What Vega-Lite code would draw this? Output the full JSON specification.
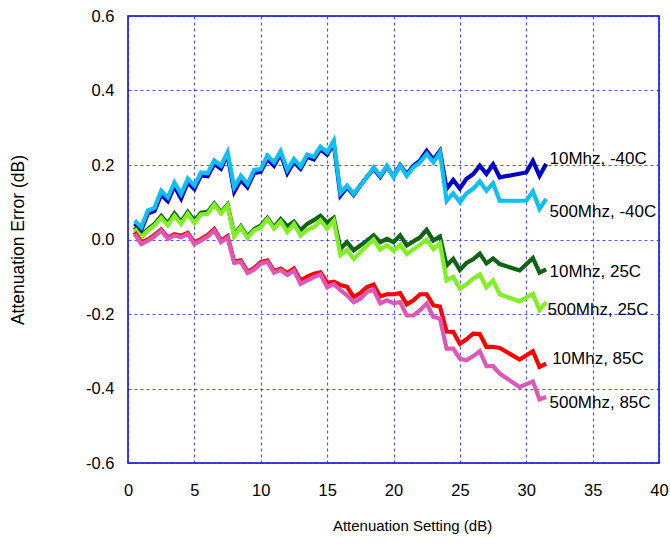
{
  "$schema": "https://vega.github.io/schema/vega-lite/v6.json",
  "autosize": {"type": "none"},
  "width": 531,
  "height": 447,
  "padding": {"left": 128, "top": 16, "right": 11, "bottom": 81},
  "background": "white",
  "config": {
    "view": {"stroke": "#0000cc", "strokeWidth": 1.5},
    "font": "Liberation Sans",
    "axis": {
      "domain": false,
      "ticks": false,
      "grid": true,
      "gridColor": "#2a2ae0",
      "gridOpacity": 0.8,
      "gridDash": [3, 3],
      "gridWidth": 1.2,
      "labelFlush": false,
      "labelFont": "Liberation Sans",
      "labelFontSize": 16.5,
      "labelColor": "#000000",
      "titleFont": "Liberation Sans",
      "titleFontSize": 15,
      "titleFontWeight": "normal",
      "titleColor": "#000000"
    }
  },
  "datasets": {
    "b10": [
      {"x":0.5,"y":0.043},{"x":1,"y":0.025},{"x":1.5,"y":0.07},{"x":2,"y":0.077},{"x":2.5,"y":0.12},{"x":3,"y":0.103},{"x":3.5,"y":0.143},{"x":4,"y":0.11},{"x":4.5,"y":0.153},{"x":5,"y":0.135},{"x":5.5,"y":0.172},{"x":6,"y":0.17},{"x":6.5,"y":0.203},{"x":7,"y":0.19},{"x":7.5,"y":0.228},
      {"x":8,"y":0.128},{"x":8.5,"y":0.16},{"x":9,"y":0.14},{"x":9.5,"y":0.178},{"x":10,"y":0.182},{"x":10.5,"y":0.216},{"x":11,"y":0.198},{"x":11.5,"y":0.23},{"x":12,"y":0.178},{"x":12.5,"y":0.208},{"x":13,"y":0.19},{"x":13.5,"y":0.222},{"x":14,"y":0.215},{"x":14.5,"y":0.242},{"x":15,"y":0.228},{"x":15.5,"y":0.258},
      {"x":16,"y":0.118},{"x":16.5,"y":0.14},{"x":17,"y":0.12},{"x":17.5,"y":0.145},{"x":18,"y":0.168},{"x":18.5,"y":0.19},{"x":19,"y":0.168},{"x":19.5,"y":0.195},{"x":20,"y":0.17},{"x":20.5,"y":0.2},{"x":21,"y":0.175},{"x":21.5,"y":0.198},{"x":22,"y":0.212},{"x":22.5,"y":0.238},{"x":23,"y":0.215},{"x":23.5,"y":0.238},
      {"x":24,"y":0.136},{"x":24.5,"y":0.16},{"x":25,"y":0.137},{"x":25.5,"y":0.163},{"x":26,"y":0.175},{"x":26.5,"y":0.198},{"x":27,"y":0.176},{"x":27.5,"y":0.202},{"x":28,"y":0.167},
      {"x":30,"y":0.18},{"x":30.5,"y":0.211},{"x":31,"y":0.171},{"x":31.5,"y":0.203}
    ],
    "b500": [
      {"x":0.5,"y":0.051},{"x":1,"y":0.033},{"x":1.5,"y":0.078},{"x":2,"y":0.085},{"x":2.5,"y":0.131},{"x":3,"y":0.113},{"x":3.5,"y":0.153},{"x":4,"y":0.122},{"x":4.5,"y":0.163},{"x":5,"y":0.145},{"x":5.5,"y":0.18},{"x":6,"y":0.178},{"x":6.5,"y":0.212},{"x":7,"y":0.198},{"x":7.5,"y":0.234},
      {"x":8,"y":0.14},{"x":8.5,"y":0.171},{"x":9,"y":0.149},{"x":9.5,"y":0.187},{"x":10,"y":0.189},{"x":10.5,"y":0.225},{"x":11,"y":0.207},{"x":11.5,"y":0.237},{"x":12,"y":0.187},{"x":12.5,"y":0.216},{"x":13,"y":0.196},{"x":13.5,"y":0.228},{"x":14,"y":0.222},{"x":14.5,"y":0.249},{"x":15,"y":0.234},{"x":15.5,"y":0.265},
      {"x":16,"y":0.125},{"x":16.5,"y":0.145},{"x":17,"y":0.122},{"x":17.5,"y":0.145},{"x":18,"y":0.167},{"x":18.5,"y":0.194},{"x":19,"y":0.171},{"x":19.5,"y":0.198},{"x":20,"y":0.167},{"x":20.5,"y":0.198},{"x":21,"y":0.171},{"x":21.5,"y":0.194},{"x":22,"y":0.207},{"x":22.5,"y":0.23},{"x":23,"y":0.207},{"x":23.5,"y":0.234},
      {"x":24,"y":0.104},{"x":24.5,"y":0.124},{"x":25,"y":0.1},{"x":25.5,"y":0.124},{"x":26,"y":0.136},{"x":26.5,"y":0.156},{"x":27,"y":0.131},{"x":27.5,"y":0.151},{"x":28,"y":0.104},
      {"x":30,"y":0.104},{"x":30.5,"y":0.129},{"x":31,"y":0.082},{"x":31.5,"y":0.109}
    ],
    "g10": [
      {"x":0.5,"y":0.033},{"x":1,"y":0.01},{"x":1.5,"y":0.028},{"x":2,"y":0.042},{"x":2.5,"y":0.063},{"x":3,"y":0.043},{"x":3.5,"y":0.07},{"x":4,"y":0.047},{"x":4.5,"y":0.074},{"x":5,"y":0.05},{"x":5.5,"y":0.072},{"x":6,"y":0.074},{"x":6.5,"y":0.097},{"x":7,"y":0.073},{"x":7.5,"y":0.094},
      {"x":8,"y":0.012},{"x":8.5,"y":0.036},{"x":9,"y":0.008},{"x":9.5,"y":0.028},{"x":10,"y":0.037},{"x":10.5,"y":0.058},{"x":11,"y":0.033},{"x":11.5,"y":0.055},{"x":12,"y":0.035},{"x":12.5,"y":0.048},{"x":13,"y":0.025},{"x":13.5,"y":0.042},{"x":14,"y":0.052},{"x":14.5,"y":0.064},{"x":15,"y":0.045},{"x":15.5,"y":0.058},
      {"x":16,"y":-0.025},{"x":16.5,"y":-0.007},{"x":17,"y":-0.029},{"x":17.5,"y":-0.016},{"x":18,"y":-0.003},{"x":18.5,"y":0.011},{"x":19,"y":-0.007},{"x":19.5,"y":0.002},{"x":20,"y":-0.007},{"x":20.5,"y":0.011},{"x":21,"y":-0.016},{"x":21.5,"y":-0.005},{"x":22,"y":0.006},{"x":22.5,"y":0.026},{"x":23,"y":-0.003},{"x":23.5,"y":0.008},
      {"x":24,"y":-0.07},{"x":24.5,"y":-0.052},{"x":25,"y":-0.082},{"x":25.5,"y":-0.063},{"x":26,"y":-0.053},{"x":26.5,"y":-0.038},{"x":27,"y":-0.064},{"x":27.5,"y":-0.051},{"x":28,"y":-0.066},
      {"x":29.5,"y":-0.083},{"x":30.5,"y":-0.05},{"x":31,"y":-0.089},{"x":31.5,"y":-0.08}
    ],
    "g500": [
      {"x":0.5,"y":0.029},{"x":1,"y":0.006},{"x":1.5,"y":0.024},{"x":2,"y":0.038},{"x":2.5,"y":0.058},{"x":3,"y":0.038},{"x":3.5,"y":0.064},{"x":4,"y":0.042},{"x":4.5,"y":0.069},{"x":5,"y":0.044},{"x":5.5,"y":0.067},{"x":6,"y":0.069},{"x":6.5,"y":0.094},{"x":7,"y":0.07},{"x":7.5,"y":0.091},
      {"x":8,"y":0.008},{"x":8.5,"y":0.033},{"x":9,"y":0.004},{"x":9.5,"y":0.024},{"x":10,"y":0.033},{"x":10.5,"y":0.055},{"x":11,"y":0.029},{"x":11.5,"y":0.049},{"x":12,"y":0.02},{"x":12.5,"y":0.042},{"x":13,"y":0.011},{"x":13.5,"y":0.026},{"x":14,"y":0.033},{"x":14.5,"y":0.051},{"x":15,"y":0.029},{"x":15.5,"y":0.051},
      {"x":16,"y":-0.042},{"x":16.5,"y":-0.028},{"x":17,"y":-0.052},{"x":17.5,"y":-0.034},{"x":18,"y":-0.016},{"x":18.5,"y":0.0},{"x":19,"y":-0.027},{"x":19.5,"y":-0.015},{"x":20,"y":-0.03},{"x":20.5,"y":-0.014},{"x":21,"y":-0.039},{"x":21.5,"y":-0.026},{"x":22,"y":-0.014},{"x":22.5,"y":0.0},{"x":23,"y":-0.026},{"x":23.5,"y":-0.01},
      {"x":24,"y":-0.11},{"x":24.5,"y":-0.1},{"x":25,"y":-0.132},{"x":25.5,"y":-0.12},{"x":26,"y":-0.105},{"x":26.5,"y":-0.094},{"x":27,"y":-0.128},{"x":27.5,"y":-0.11},{"x":28,"y":-0.147},
      {"x":29.5,"y":-0.166},{"x":30.5,"y":-0.146},{"x":31,"y":-0.189},{"x":31.5,"y":-0.168}
    ],
    "r10": [
      {"x":0.5,"y":0.02},{"x":1,"y":-0.008},{"x":1.5,"y":0.0},{"x":2,"y":0.012},{"x":2.5,"y":0.027},{"x":3,"y":0.005},{"x":3.5,"y":0.014},{"x":4,"y":0.01},{"x":4.5,"y":0.018},{"x":5,"y":-0.008},{"x":5.5,"y":0.001},{"x":6,"y":0.012},{"x":6.5,"y":0.028},{"x":7,"y":-0.003},{"x":7.5,"y":0.009},
      {"x":8,"y":-0.059},{"x":8.5,"y":-0.056},{"x":9,"y":-0.086},{"x":9.5,"y":-0.077},{"x":10,"y":-0.061},{"x":10.5,"y":-0.056},{"x":11,"y":-0.085},{"x":11.5,"y":-0.078},{"x":12,"y":-0.09},{"x":12.5,"y":-0.078},{"x":13,"y":-0.11},{"x":13.5,"y":-0.1},{"x":14,"y":-0.092},{"x":14.5,"y":-0.088},{"x":15,"y":-0.116},{"x":15.5,"y":-0.113},
      {"x":16,"y":-0.122},{"x":16.5,"y":-0.127},{"x":17,"y":-0.154},{"x":17.5,"y":-0.144},{"x":18,"y":-0.128},{"x":18.5,"y":-0.121},{"x":19,"y":-0.153},{"x":19.5,"y":-0.147},{"x":20,"y":-0.147},{"x":20.5,"y":-0.144},{"x":21,"y":-0.174},{"x":21.5,"y":-0.163},{"x":22,"y":-0.147},{"x":22.5,"y":-0.147},{"x":23,"y":-0.177},{"x":23.5,"y":-0.18},
      {"x":24,"y":-0.247},{"x":24.5,"y":-0.248},{"x":25,"y":-0.28},{"x":25.5,"y":-0.268},{"x":26,"y":-0.253},{"x":26.5,"y":-0.254},{"x":27,"y":-0.288},{"x":27.5,"y":-0.288},{"x":28,"y":-0.291},
      {"x":29.5,"y":-0.322},{"x":30.5,"y":-0.3},{"x":31,"y":-0.342},{"x":31.5,"y":-0.333}
    ],
    "r500": [
      {"x":0.5,"y":0.015},{"x":1,"y":-0.012},{"x":1.5,"y":-0.003},{"x":2,"y":0.008},{"x":2.5,"y":0.024},{"x":3,"y":0.002},{"x":3.5,"y":0.011},{"x":4,"y":0.006},{"x":4.5,"y":0.015},{"x":5,"y":-0.012},{"x":5.5,"y":-0.003},{"x":6,"y":0.008},{"x":6.5,"y":0.024},{"x":7,"y":-0.007},{"x":7.5,"y":0.005},
      {"x":8,"y":-0.063},{"x":8.5,"y":-0.06},{"x":9,"y":-0.09},{"x":9.5,"y":-0.081},{"x":10,"y":-0.065},{"x":10.5,"y":-0.06},{"x":11,"y":-0.089},{"x":11.5,"y":-0.082},{"x":12,"y":-0.095},{"x":12.5,"y":-0.083},{"x":13,"y":-0.119},{"x":13.5,"y":-0.11},{"x":14,"y":-0.101},{"x":14.5,"y":-0.094},{"x":15,"y":-0.128},{"x":15.5,"y":-0.12},
      {"x":16,"y":-0.136},{"x":16.5,"y":-0.15},{"x":17,"y":-0.168},{"x":17.5,"y":-0.159},{"x":18,"y":-0.141},{"x":18.5,"y":-0.135},{"x":19,"y":-0.171},{"x":19.5,"y":-0.163},{"x":20,"y":-0.171},{"x":20.5,"y":-0.168},{"x":21,"y":-0.204},{"x":21.5,"y":-0.204},{"x":22,"y":-0.19},{"x":22.5,"y":-0.172},{"x":23,"y":-0.208},{"x":23.5,"y":-0.212},
      {"x":24,"y":-0.293},{"x":24.5,"y":-0.293},{"x":25,"y":-0.32},{"x":25.5,"y":-0.324},{"x":26,"y":-0.313},{"x":26.5,"y":-0.3},{"x":27,"y":-0.34},{"x":27.5,"y":-0.34},{"x":28,"y":-0.36},
      {"x":29.5,"y":-0.396},{"x":30.5,"y":-0.381},{"x":31,"y":-0.429},{"x":31.5,"y":-0.423}
    ],
    "labels": [
      {"label":"10Mhz, -40C","x":31.75,"y":0.217},
      {"label":"500Mhz, -40C","x":31.75,"y":0.074},
      {"label":"10Mhz, 25C","x":31.75,"y":-0.087},
      {"label":"500Mhz, 25C","x":31.6,"y":-0.188},
      {"label":"10Mhz, 85C","x":31.95,"y":-0.322},
      {"label":"500Mhz, 85C","x":31.75,"y":-0.438}
    ]
  },
  "encoding": {
    "x": {
      "field": "x", "type": "quantitative",
      "scale": {"domain": [0, 40], "nice": false, "zero": false},
      "axis": {"title": "Attenuation Setting (dB)", "values": [0,5,10,15,20,25,30,35,40], "labelPadding": 19, "titleX": 284, "titleY": 62, "titleAlign": "center", "titleBaseline": "middle"}
    },
    "y": {
      "field": "y", "type": "quantitative",
      "scale": {"domain": [-0.6, 0.6], "nice": false, "zero": false},
      "axis": {"title": "Attenuation Error (dB)", "values": [-0.6,-0.4,-0.2,0,0.2,0.4,0.6], "labelPadding": 14, "labelExpr": "replace(datum.label, '\u2212', '-')", "titleFontSize": 17.5, "titleX": -110, "titleY": 223.5, "titleAngle": -90, "titleAlign": "center", "titleBaseline": "middle"}
    }
  },
  "layer": [
    {"data": {"name": "b10"}, "mark": {"type": "line", "color": "#0000cc", "strokeWidth": 4.2}},
    {"data": {"name": "b500"}, "mark": {"type": "line", "color": "#0cc0f4", "strokeWidth": 4.2}},
    {"data": {"name": "g10"}, "mark": {"type": "line", "color": "#0e6414", "strokeWidth": 4.2}},
    {"data": {"name": "g500"}, "mark": {"type": "line", "color": "#80f024", "strokeWidth": 4.2}},
    {"data": {"name": "r10"}, "mark": {"type": "line", "color": "#ff0000", "strokeWidth": 4.2}},
    {"data": {"name": "r500"}, "mark": {"type": "line", "color": "#dc58b8", "strokeWidth": 4.2}},
    {
      "data": {"name": "labels"},
      "mark": {"type": "text", "align": "left", "baseline": "middle", "font": "Liberation Sans", "fontSize": 17, "color": "#000000"},
      "encoding": {"text": {"field": "label"}}
    }
  ]
}
